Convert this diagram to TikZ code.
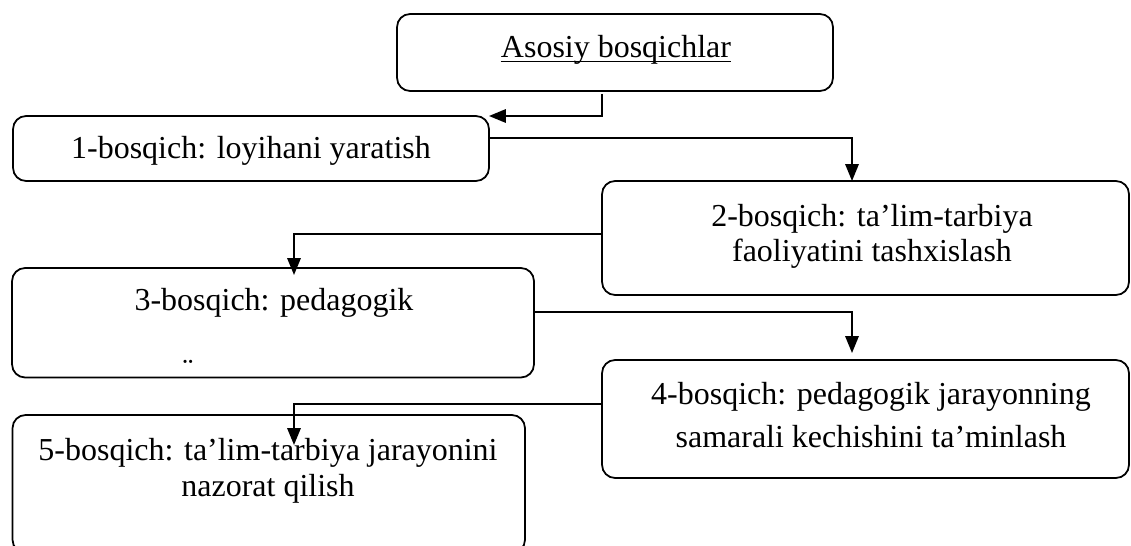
\documentclass[tikz,border=0pt]{standalone}
\usepackage{fontspec}
\setmainfont{Liberation Serif}
\usepackage{tikz}
\usetikzlibrary{positioning, arrows.meta}

\begin{document}
\begin{tikzpicture}[
  x=0.02cm, y=-0.02cm,
  box/.style={draw, line width=1pt, rounded corners=0.26cm,
              inner sep=0pt, outer sep=0pt},
  txt/.style={anchor=base, inner sep=0pt,
              font=\fontsize{18.2}{20}\selectfont},
  arr/.style={line width=1pt, -{Triangle[length=0.34cm, width=0.27cm]}},
]
  \useasboundingbox (0,0) rectangle (1131,546);

  % Boxes
  \node[box, minimum width=8.72cm, minimum height=1.54cm]
    (b0) at (615,52.5) {};
  \node[box, minimum width=9.52cm, minimum height=1.3cm]
    (b1) at (251,148.5) {};
  \node[box, minimum width=10.54cm, minimum height=2.28cm]
    (b2) at (865.5,238) {};
  \node[box, minimum width=10.44cm, minimum height=2.19cm]
    (b3) at (273,322.75) {};
  \node[box, minimum width=10.54cm, minimum height=2.36cm]
    (b4) at (865.5,419) {};
  \node[box, minimum width=10.25cm, minimum height=2.76cm]
    (b5) at (268.75,484) {};

  % Texts
  \node[txt] (t0) at (616,58) {Asosiy bosqichlar};
  \draw[line width=0.8pt] ([yshift=-0.07cm]t0.base west)
    -- ([yshift=-0.07cm]t0.base east);
  \node[txt] (t1) at (251,159) {1-bosqich: loyihani yaratish};
  \node[txt] (t2a) at (872,227) {2-bosqich: ta’lim-tarbiya};
  \node[txt] (t2b) at (872,262) {faoliyatini tashxislash};
  \node[txt] (t3) at (274,311) {3-bosqich: pedagogik};
  \node[txt] (t3dots) at (188,381) {¨};
  \node[txt] (t4a) at (871,405) {4-bosqich: pedagogik jarayonning};
  \node[txt] (t4b) at (871,447) {samarali kechishini ta’minlash};
  \node[txt] (t5a) at (268,460) {5-bosqich: ta’lim-tarbiya jarayonini};
  \node[txt] (t5b) at (268,496) {nazorat qilish};

  % Bend points
  \coordinate (s1) at (602,94);
  \coordinate (k2) at (852,138);
  \coordinate (k3) at (294,234);
  \coordinate (k4) at (852,312);
  \coordinate (k5) at (294,404);

  % Connectors
  \draw[arr] (s1) |- (b1.north east);
  \draw[arr] (b1.east |- k2) -| (b2.north -| k2);
  \draw[arr, shorten >=-0.14cm] (b2.west |- k3) -| (b3.north -| k3);
  \draw[arr, shorten >=0.14cm] (b3.east |- k4) -| (b4.north -| k4);
  \draw[arr, shorten >=-0.6cm] (b4.west |- k5) -| (b5.north -| k5);

\end{tikzpicture}
\end{document}
